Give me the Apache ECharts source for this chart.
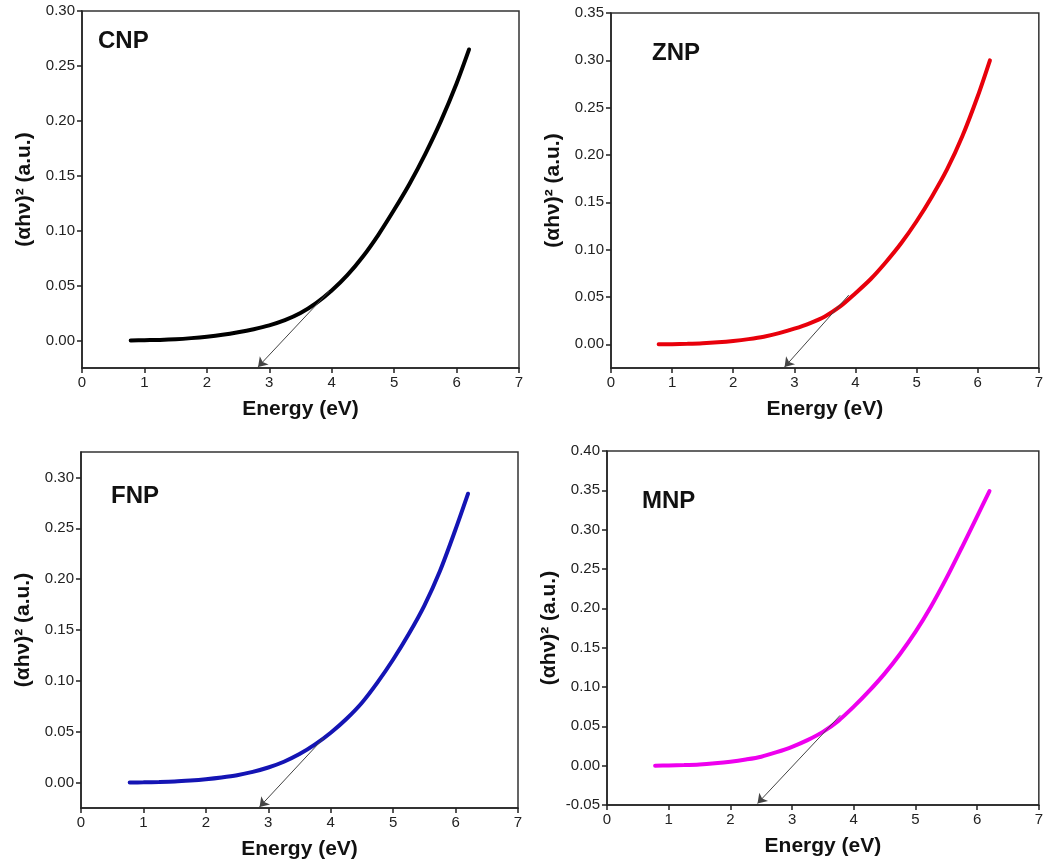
<!DOCTYPE html>
<html>
<head>
<meta charset="utf-8">
<script src="https://cdn.jsdelivr.net/npm/echarts@6/dist/echarts.min.js"></script>
<style>
html,body{margin:0;padding:0;background:#fff;}
#c{width:1046px;height:864px;}
</style>
</head>
<body>
<div id="c"></div>
<script>
// ---- data ----
const energy = [0.78,1.0,1.25,1.5,1.75,2.0,2.25,2.5,2.75,3.0,3.25,3.5,3.75,4.0,4.25,4.5,4.75,5.0,5.25,5.5,5.75,6.0,6.2];
const cnp = [0.0000,0.0003,0.0006,0.0012,0.0022,0.0035,0.0052,0.0075,0.0103,0.0138,0.0185,0.0250,0.0340,0.0455,0.0595,0.0765,0.0965,0.1190,0.1430,0.1700,0.2000,0.2340,0.2650];
const znp = [0.0000,0.0002,0.0006,0.0012,0.0022,0.0036,0.0055,0.0080,0.0118,0.0165,0.0222,0.0295,0.0400,0.0540,0.0690,0.0870,0.1070,0.1300,0.1560,0.1850,0.2200,0.2620,0.3000];
const fnp = [0.0000,0.0002,0.0005,0.0010,0.0020,0.0033,0.0050,0.0072,0.0105,0.0148,0.0205,0.0280,0.0375,0.0490,0.0625,0.0785,0.0985,0.1210,0.1460,0.1740,0.2080,0.2490,0.2840];
const mnp = [0.0000,0.0002,0.0007,0.0015,0.0030,0.0050,0.0078,0.0114,0.0172,0.0240,0.0325,0.0430,0.0570,0.0750,0.0950,0.1170,0.1420,0.1700,0.2020,0.2380,0.2770,0.3170,0.3490];

// tangent arrows: [startE, startY, tipE, tipY]
const arrowCNP = [3.96, 0.045, 2.82, -0.024];
const arrowZNP = [3.89, 0.052, 2.84, -0.024];
const arrowFNP = [3.89, 0.044, 2.86, -0.024];
const arrowMNP = [3.78, 0.064, 2.44, -0.048];

const yTicksCNP = [0,0.05,0.10,0.15,0.20,0.25,0.30];
const yTicksZNP = [0,0.05,0.10,0.15,0.20,0.25,0.30,0.35];
const yTicksFNP = [0,0.05,0.10,0.15,0.20,0.25,0.30];

const panels = [
  {name:'CNP', data:cnp, color:'#000000', arrow:arrowCNP, ymin:-0.025, ymax:0.30, ticks:yTicksCNP,
   grid:{left:82, top:11, width:437, height:357}, label:[98,43]},
  {name:'ZNP', data:znp, color:'#e8000b', arrow:arrowZNP, ymin:-0.025, ymax:0.35, ticks:yTicksZNP,
   grid:{left:611, top:13, width:432, height:355}, label:[652,55]},
  {name:'FNP', data:fnp, color:'#1414b4', arrow:arrowFNP, ymin:-0.025, ymax:0.325, ticks:yTicksFNP,
   grid:{left:81, top:452, width:437, height:356}, label:[111,498]},
  {name:'MNP', data:mnp, color:'#ee00ee', arrow:arrowMNP, ymin:-0.05, ymax:0.40, ticks:null,
   grid:{left:607, top:451, width:435, height:354}, label:[642,503]}
];

const FONT = 'Liberation Sans, Arial, Helvetica, sans-serif';
const grids = [], xAxes = [], yAxes = [], series = [], graphics = [];

panels.forEach((p, i) => {
  grids.push(Object.assign({show:true, borderColor:'#333', borderWidth:1.5, backgroundColor:'transparent'}, p.grid));
  xAxes.push({
    type:'value', gridIndex:i, min:0, max:7, interval:1,
    name:'Energy (eV)', nameLocation:'middle', nameGap:31,
    nameTextStyle:{fontFamily:FONT, fontSize:21, fontWeight:'bold', color:'#111'},
    axisLine:{show:true, onZero:false, lineStyle:{color:'#222', width:1.5}},
    axisTick:{show:true, inside:false, length:5, lineStyle:{color:'#222', width:1.5}},
    axisLabel:{fontFamily:FONT, fontSize:15, color:'#222', margin:7},
    splitLine:{show:false}
  });
  const y = {
    type:'value', gridIndex:i, min:p.ymin, max:p.ymax,
    name:'(αhν)² (a.u.)', nameLocation:'middle', nameGap:47,
    nameTextStyle:{fontFamily:FONT, fontSize:21, fontWeight:'bold', color:'#111'},
    axisLine:{show:true, onZero:false, lineStyle:{color:'#222', width:1.5}},
    axisTick:{show:true, inside:false, length:5, lineStyle:{color:'#222', width:1.5}},
    axisLabel:{fontFamily:FONT, fontSize:15, color:'#222', margin:7, formatter:v => v.toFixed(2)},
    splitLine:{show:false}
  };
  if (p.ticks) {
    y.axisTick.customValues = p.ticks;
    y.axisLabel.customValues = p.ticks;
  } else {
    y.interval = 0.05;
  }
  yAxes.push(y);
  series.push({
    type:'line', xAxisIndex:i, yAxisIndex:i, name:p.name,
    data: energy.map((e, k) => [e, p.data[k]]),
    smooth:0.3, showSymbol:false, symbol:'none',
    lineStyle:{color:p.color, width:4, cap:'round'},
    silent:true, animation:false, z:2,
    markLine:{
      silent:true, animation:false, z:3,
      symbol:['none','arrow'], symbolSize:9,
      label:{show:false},
      lineStyle:{color:'#444', width:1, type:'solid'},
      data:[[{coord:[p.arrow[0], p.arrow[1]]},{coord:[p.arrow[2], p.arrow[3]]}]]
    }
  });
  graphics.push({
    type:'text', left:p.label[0], top:p.label[1]-14,
    style:{text:p.name, fontFamily:FONT, fontSize:24, fontWeight:'bold', fill:'#111'}
  });
});

const chart = echarts.init(document.getElementById('c'), null, {renderer:'canvas'});
chart.setOption({
  animation:false,
  backgroundColor:'#ffffff',
  grid:grids, xAxis:xAxes, yAxis:yAxes, series:series, graphic:graphics
});
</script>
</body>
</html>
